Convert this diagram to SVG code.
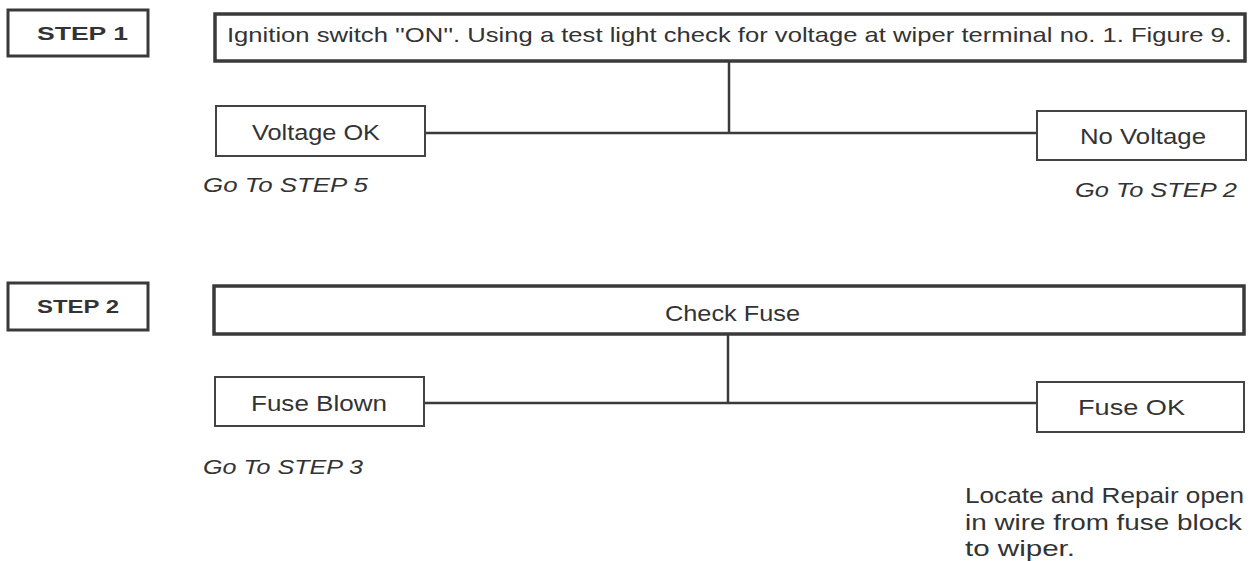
<svg xmlns="http://www.w3.org/2000/svg" width="1257" height="561" viewBox="0 0 1257 561">
<style>
.bg{fill:#ffffff}
.step{fill:#ffffff;stroke:#3a3a3a;stroke-width:3}
.main{fill:#ffffff;stroke:#3a3a3a;stroke-width:3.5}
.box{fill:#ffffff;stroke:#444444;stroke-width:2}
.conn{stroke:#3a3a3a;stroke-width:2.5;fill:none}
text{font-family:"Liberation Sans",Arial,sans-serif;fill:#333333}
.st{font-size:19px;font-weight:bold}
.t{font-size:22px}
.tt{font-size:21px}
.it{font-size:20px;font-style:italic}
</style>
<rect class="bg" x="0" y="0" width="1257" height="561"/>
<g id="connectors">
<line class="conn" x1="729" y1="61" x2="729" y2="133"/>
<line class="conn" x1="425" y1="133" x2="1037" y2="133"/>
<line class="conn" x1="728" y1="334" x2="728" y2="403"/>
<line class="conn" x1="424" y1="403" x2="1037" y2="403"/>
</g>
<g id="step1">
<rect class="step" x="8" y="10" width="140" height="46"/>
<text class="st" x="37" y="40" textLength="91" lengthAdjust="spacingAndGlyphs">STEP 1</text>
</g>
<g id="ignition">
<rect class="main" x="215" y="14" width="1030" height="47"/>
<text class="tt" x="227" y="42" textLength="1005" lengthAdjust="spacingAndGlyphs">Ignition switch ''ON''. Using a test light check for voltage at wiper terminal no. 1. Figure 9.</text>
</g>
<g id="voltage-ok">
<rect class="box" x="216" y="106" width="209" height="50"/>
<text class="t" x="252" y="140" textLength="128" lengthAdjust="spacingAndGlyphs">Voltage OK</text>
</g>
<g id="no-voltage">
<rect class="box" x="1037" y="111" width="209" height="49"/>
<text class="t" x="1080" y="144" textLength="126" lengthAdjust="spacingAndGlyphs">No Voltage</text>
</g>
<g id="goto5">
<text class="it" x="203" y="192" textLength="165" lengthAdjust="spacingAndGlyphs">Go To STEP 5</text>
</g>
<g id="goto2">
<text class="it" x="1075" y="197" textLength="162" lengthAdjust="spacingAndGlyphs">Go To STEP 2</text>
</g>
<g id="step2">
<rect class="step" x="8" y="283" width="140" height="47"/>
<text class="st" x="37" y="313" textLength="82" lengthAdjust="spacingAndGlyphs">STEP 2</text>
</g>
<g id="check-fuse">
<rect class="main" x="214" y="286" width="1030" height="48"/>
<text class="t" x="665" y="321" textLength="135" lengthAdjust="spacingAndGlyphs">Check Fuse</text>
</g>
<g id="fuse-blown">
<rect class="box" x="215" y="377" width="209" height="49"/>
<text class="t" x="251" y="411" textLength="136" lengthAdjust="spacingAndGlyphs">Fuse Blown</text>
</g>
<g id="fuse-ok">
<rect class="box" x="1037" y="382" width="207" height="50"/>
<text class="t" x="1078" y="415" textLength="107" lengthAdjust="spacingAndGlyphs">Fuse OK</text>
</g>
<g id="goto3">
<text class="it" x="203" y="474" textLength="160" lengthAdjust="spacingAndGlyphs">Go To STEP 3</text>
</g>
<g id="repair">
<text class="t" x="965" y="503" textLength="279" lengthAdjust="spacingAndGlyphs">Locate and Repair open</text>
<text class="t" x="965" y="530" textLength="277" lengthAdjust="spacingAndGlyphs">in wire from fuse block</text>
<text class="t" x="965" y="556" textLength="110" lengthAdjust="spacingAndGlyphs">to wiper.</text>
</g>
</svg>
